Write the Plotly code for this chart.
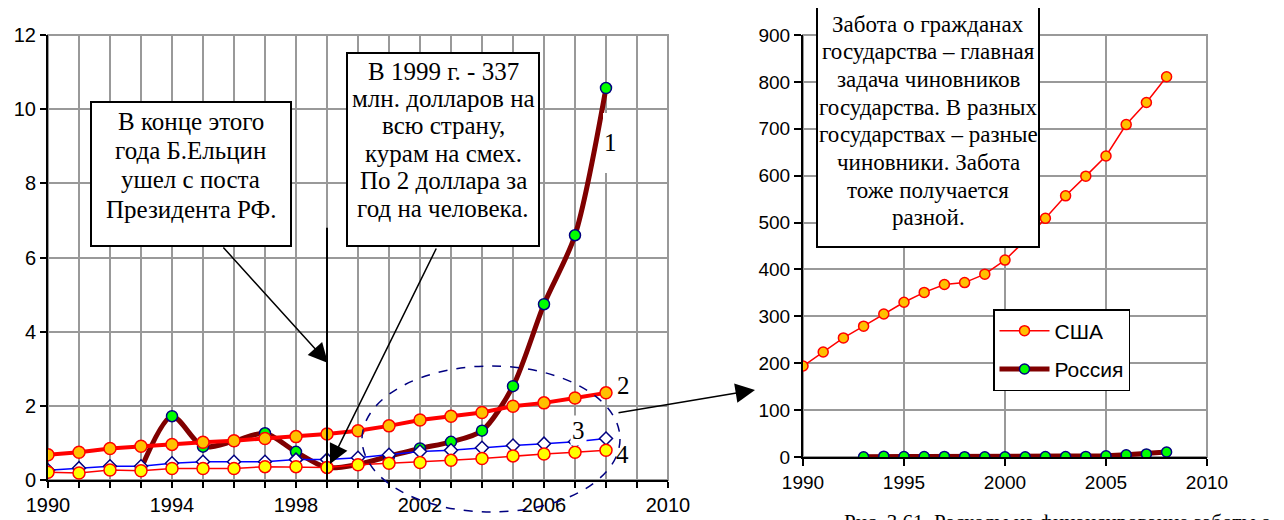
import plotly.graph_objects as go

W, H = 1284, 520
OFF = 8  # page body margin

years = list(range(1990, 2009))
russia_years = list(range(1993, 2009))
russia = [0.30, 1.72, 0.90, 1.05, 1.26, 0.76, 0.337, 0.42, 0.64, 0.85, 1.03, 1.33, 2.53, 4.74, 6.60, 10.57]
series2 = [0.68, 0.75, 0.85, 0.91, 0.96, 1.02, 1.06, 1.12, 1.17, 1.24, 1.33, 1.46, 1.62, 1.72, 1.82, 1.99, 2.08, 2.21, 2.35]
series3 = [0.26, 0.32, 0.37, 0.37, 0.45, 0.49, 0.49, 0.49, 0.55, 0.55, 0.60, 0.68, 0.77, 0.80, 0.87, 0.93, 0.98, 1.03, 1.12]
series4 = [0.21, 0.19, 0.27, 0.25, 0.31, 0.31, 0.31, 0.36, 0.36, 0.34, 0.41, 0.45, 0.47, 0.53, 0.58, 0.65, 0.70, 0.75, 0.80]
usa = [194, 224, 254, 279, 305, 330, 351, 368, 372, 390, 420, 462, 509, 557, 599, 642, 709, 756, 811]

left_xticks = [1990, 1994, 1998, 2002, 2006, 2010]
right_xticks = [1990, 1995, 2000, 2005, 2010]

box1_lines = ["В конце этого", "года Б.Ельцин", "ушел с поста", "Президента РФ."]
box2_lines = ["В 1999 г. - 337", "млн. долларов на", "всю страну,", "курам на смех.", "По 2 доллара за", "год на человека."]
box3_lines = ["Забота о гражданах", "государства – главная", "задача чиновников", "государства. В разных",
              "государствах – разные", "чиновники. Забота", "тоже получается", "разной."]
caption = "Рис. 3.61. Расходы на финансирование заботы о гражданах"

SERIF = "Liberation Serif, Times New Roman, serif"
SANS = "Liberation Sans, Arial, sans-serif"
GRID = "#999999"


def px(x):
    return (x - OFF) / W


def py(y):
    return 1 - (y - OFF) / H


fig = go.Figure()

# ---- left chart ----
fig.add_trace(go.Scatter(x=russia_years, y=russia, mode="lines+markers", line=dict(color="#800000", width=5, shape="spline", smoothing=0.8),
                         marker=dict(size=11, color="#00FF00", line=dict(color="#000080", width=1.5)), showlegend=False, xaxis="x", yaxis="y"))
fig.add_trace(go.Scatter(x=years, y=series3, mode="lines+markers", line=dict(color="#0000FF", width=1.5),
                         marker=dict(size=10, symbol="diamond", color="white", line=dict(color="#000080", width=1.5)), showlegend=False, xaxis="x", yaxis="y"))
fig.add_trace(go.Scatter(x=years, y=series4, mode="lines+markers", line=dict(color="#FF0000", width=1.5),
                         marker=dict(size=12, color="#FFFF00", line=dict(color="#FF0000", width=1.5)), showlegend=False, xaxis="x", yaxis="y"))
fig.add_trace(go.Scatter(x=years, y=series2, mode="lines+markers", line=dict(color="#FF0000", width=4),
                         marker=dict(size=12, color="#FFC000", line=dict(color="#FF0000", width=1.5)), showlegend=False, xaxis="x", yaxis="y"))

# ---- right chart ----
fig.add_trace(go.Scatter(x=years, y=usa, name="США", legendgroup="a", mode="lines+markers", line=dict(color="#FF0000", width=1.5),
                         marker=dict(size=10, color="#FFC000", line=dict(color="#FF0000", width=1.5)), xaxis="x2", yaxis="y2"))
fig.add_trace(go.Scatter(x=russia_years, y=russia, name="Россия", legendgroup="b", mode="lines+markers", line=dict(color="#800000", width=5),
                         marker=dict(size=10, color="#00FF00", line=dict(color="#000080", width=1.5)), xaxis="x2", yaxis="y2"))

axis_common = dict(showline=True, linecolor="black", linewidth=2, ticks="outside", tickcolor="black", tickwidth=1.5,
                   gridcolor=GRID, gridwidth=1.5, zeroline=False, automargin=False, fixedrange=True)

fig.update_layout(
    width=W, height=H, margin=dict(l=0, r=0, t=0, b=0), paper_bgcolor="white", plot_bgcolor="white",
    xaxis=dict(domain=[px(48), px(668)], range=[1990, 2010], tickvals=left_xticks, ticklen=6,
               tickfont=dict(family=SANS, size=20, color="black"),
               minor=dict(dtick=1, tick0=1990, ticks="outside", ticklen=6, tickcolor="black", tickwidth=1.5, showgrid=True, gridcolor=GRID, gridwidth=1.5),
               anchor="y", **axis_common),
    yaxis=dict(domain=[py(480), py(35)], range=[0, 12], dtick=2, ticklen=6,
               tickfont=dict(family=SANS, size=20, color="black"), anchor="x", **axis_common),
    xaxis2=dict(domain=[px(803), px(1207)], range=[1990, 2010], tickvals=right_xticks, ticklen=7,
                tickfont=dict(family=SANS, size=19, color="black"), anchor="y2", **axis_common),
    yaxis2=dict(domain=[py(457), py(35)], range=[0, 900], dtick=100, ticklen=7,
                tickfont=dict(family=SANS, size=19, color="black"), anchor="x2", **axis_common),
    legend=dict(x=px(993), y=py(309), xanchor="left", yanchor="top", bordercolor="black", borderwidth=1.5, bgcolor="white",
                font=dict(family=SANS, size=21, color="black"), tracegroupgap=8, itemwidth=50),
)

# gray frames (top and right)
for xr, yr in (("x domain", "y domain"), ("x2 domain", "y2 domain")):
    fig.add_shape(type="rect", xref=xr, yref=yr, x0=0, x1=1, y0=0, y1=1, line=dict(color=GRID, width=2), layer="below")

# vertical line at 1999
fig.add_shape(type="line", xref="x", yref="y", x0=1999, x1=1999, y0=0, y1=6.8, line=dict(color="black", width=2))

# dashed ellipse
fig.add_shape(type="circle", xref="paper", yref="paper", x0=px(362), x1=px(620), y0=py(512), y1=py(366),
              line=dict(color="#000080", width=1.5, dash="dash"))


def box(lines, x0, y0, x1, y1, first, step, size):
    fig.add_shape(type="rect", xref="paper", yref="paper", x0=px(x0), x1=px(x1), y0=py(y1), y1=py(y0),
                  line=dict(color="black", width=2), fillcolor="white", layer="above")
    cx = (x0 + x1) / 2
    for i, t in enumerate(lines):
        fig.add_annotation(xref="paper", yref="paper", x=px(cx), y=py(first + i * step), xanchor="center", yanchor="middle",
                           text=t, showarrow=False, font=dict(family=SERIF, size=size, color="black"))


box(box1_lines, 91, 102, 291, 246, 121, 29.5, 25)
box(box2_lines, 347, 53, 539, 246, 71, 27.5, 25)
box(box3_lines, 817, 6, 1039, 247, 24, 27.7, 23)


def arrow(tail, tip):
    fig.add_annotation(xref="paper", yref="paper", x=px(tip[0]), y=py(tip[1]), ax=tail[0] - tip[0], ay=tail[1] - tip[1],
                       showarrow=True, arrowhead=2, arrowsize=2.6, arrowwidth=1.5, arrowcolor="black", text="", standoff=0)


arrow((222, 246), (328, 363))
arrow((437, 247), (330, 464))
arrow((617, 413), (755, 390))

# white strip behind label "1"
fig.add_shape(type="rect", xref="paper", yref="paper", x0=px(603), x1=px(618), y0=py(173), y1=py(113),
              line=dict(width=0), fillcolor="white", layer="above")

# series number labels
for t, x, y, bg in (("1", 610, 143, "rgba(0,0,0,0)"), ("2", 623, 385, "rgba(0,0,0,0)"), ("3", 578, 430, "white"), ("4", 622, 454, "rgba(0,0,0,0)")):
    fig.add_annotation(xref="paper", yref="paper", x=px(x), y=py(y), xanchor="center", yanchor="middle", text=t, showarrow=False,
                       font=dict(family=SERIF, size=25, color="black"), bgcolor=bg, borderpad=1)

# caption (cut by page bottom)
fig.add_annotation(xref="paper", yref="paper", x=px(842), y=py(508), xanchor="left", yanchor="top", showarrow=False,
                   text=caption, font=dict(family=SERIF, size=21, color="black"))

fig.write_html("out.html")
